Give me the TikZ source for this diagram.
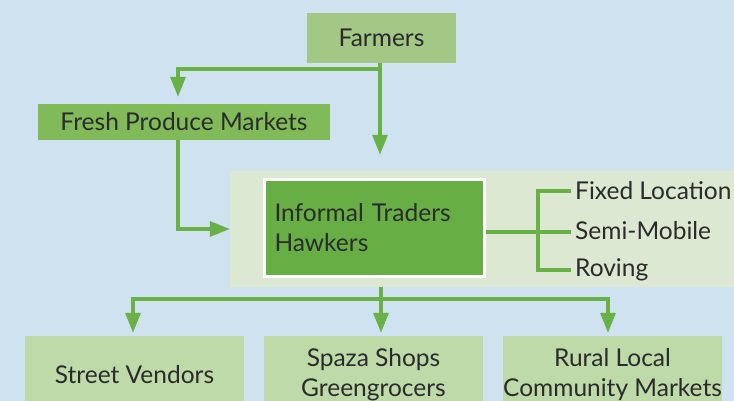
\documentclass[tikz,border=0pt]{standalone}
\usepackage{fontspec}
\setmainfont{Lato}
\usetikzlibrary{arrows.meta}
\definecolor{skyback}{HTML}{CFE2EF}
\definecolor{farmgreen}{HTML}{A3C785}
\definecolor{freshgreen}{HTML}{81BA59}
\definecolor{panelgreen}{HTML}{DCE8D1}
\definecolor{tradergreen}{HTML}{67AE45}
\definecolor{outletgreen}{HTML}{BDDAA8}
\definecolor{linegreen}{HTML}{69B047}
\definecolor{textgray}{HTML}{2B2B2B}
\begin{document}
\begin{tikzpicture}[x=1pt, y=-1pt,
    box/.style={rectangle, fill=#1, text=textgray, inner sep=0pt, align=center},
    kind/.style={anchor=west, text=textgray, inner sep=4pt},
    flow/.style={draw=linegreen, line width=3.2pt, -{Triangle[length=20pt,width=15pt]}},
    link/.style={draw=linegreen, line width=3.2pt},
    every node/.style={font=\fontsize{24.5}{30}\selectfont}
]
\fill[skyback] (0,0) rectangle (734,401);
\useasboundingbox (0,0) rectangle (734,401);

\node[box=farmgreen, minimum width=149pt, minimum height=50pt] (farmers) at (381.5,38) {Farmers};
\node[box=freshgreen, minimum width=292pt, minimum height=36pt] (fresh) at (184,122) {Fresh Produce Markets};
\node[fill=panelgreen, minimum width=504pt, minimum height=116pt, inner sep=0pt] (panel) at (482,229) {};
\node[box=tradergreen, draw=white, line width=3pt, minimum width=220pt, minimum height=97pt,
      align=left, text width=200pt] (informal) at (374.5,228) {Informal Traders\\Hawkers};

\node[kind] (fixed)  at (571,191) {Fixed Location};
\node[kind] (semi)   at (571,231) {Semi-Mobile};
\node[kind] (roving) at (571,270) {Roving};

\node[box=outletgreen, minimum width=219pt, minimum height=78pt] (street) at (134.5,375) {Street Vendors};
\node[box=outletgreen, minimum width=219pt, minimum height=78pt] (spaza)  at (373.5,375) {Spaza Shops\\Greengrocers};
\node[box=outletgreen, minimum width=219pt, minimum height=78pt] (rural)  at (612.5,375) {Rural Local\\Community Markets};

% supply side
\coordinate (trunk) at (380,69);
\draw[flow, shorten >=16pt] (farmers.south -| trunk) -- (trunk |- panel.north);
\draw[flow, shorten >=7pt] (trunk) -| ([xshift=-6pt]fresh.north);
\draw[flow] ([xshift=-6pt]fresh.south) |- (panel.west);

% trader types
\coordinate (split) at (538,232);
\draw[link] (informal.east |- split) -- (split) -- (semi.west |- split);
\draw[link] (fixed.west) -| (split) |- (roving.west);

% outlets
\coordinate (hub) at (381,299);
\draw[link] (panel.south -| hub) -- (hub);
\draw[flow, shorten >=3pt] (hub) -| ([xshift=-1.5pt]street.north);
\draw[flow, shorten >=3pt] (hub) -- (hub |- spaza.north);
\draw[flow, shorten >=3pt] (hub) -| ([xshift=-4.5pt]rural.north);

\end{tikzpicture}
\end{document}
